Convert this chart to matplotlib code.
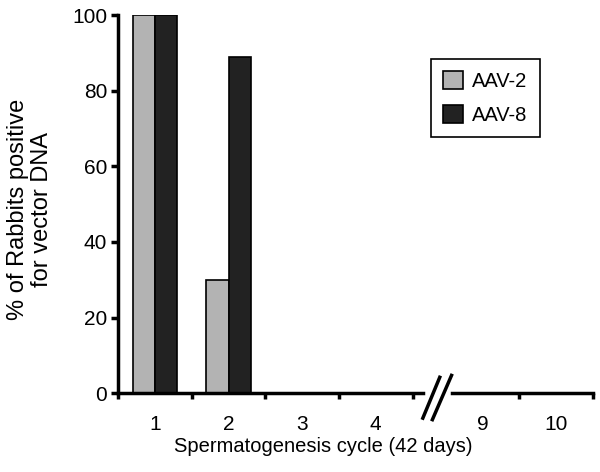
import matplotlib
matplotlib.use("Agg")
import matplotlib.pyplot as plt
from matplotlib.patches import Patch
import matplotlib.transforms as mtransforms

plt.rcParams['font.family'] = ['Liberation Sans', 'DejaVu Sans']

# datos
cycles = ['1', '2', '3', '4', '9', '10']
aav2 = [100, 30, 0, 0, 0, 0]
aav8 = [100, 89, 0, 0, 0, 0]

# posiciones de las categorías (hueco tras el 4 por el corte del eje)
centers = [0.5, 1.5, 2.5, 3.5, 4.95, 5.95]
bw = 0.3
gray = '#b3b3b3'
dark = '#222222'

fig = plt.figure(figsize=(6, 4.72), dpi=100)
ax = fig.add_axes([0.197, 0.167, 0.791, 0.801])

ax.bar([c - bw / 2 for c in centers], aav2, width=bw, color=gray,
       edgecolor='black', lw=1.2, label='AAV-2')
ax.bar([c + bw / 2 for c in centers], aav8, width=bw, color=dark,
       edgecolor='black', lw=1.2, label='AAV-8')

ax.set_xlim(0, 6.45)
ax.set_ylim(0, 100)
ax.set_yticks(range(0, 101, 20))
ax.tick_params(axis='y', direction='out', length=5, width=2.5, labelsize=15, pad=3)

# eje x: marcas en los límites, etiquetas en los centros
ax.set_xticks([0, 1, 2, 3, 4, 5.45, 6.45])
ax.set_xticklabels([])
ax.tick_params(axis='x', which='major', direction='out', length=4, width=2.5)
ax.set_xticks(centers, minor=True)
ax.set_xticklabels(cycles, minor=True)
ax.tick_params(axis='x', which='minor', length=0, labelsize=15, pad=16)

for s in ['top', 'right', 'bottom']:
    ax.spines[s].set_visible(False)
ax.spines['left'].set_linewidth(2.5)

# línea del eje x con corte
trans = mtransforms.blended_transform_factory(ax.transData, ax.transAxes)
ax.plot([0, 4.14], [0, 0], color='black', lw=2.5, transform=trans, clip_on=False)
ax.plot([4.53, 6.45], [0, 0], color='black', lw=2.5, transform=trans, clip_on=False)
ax.plot([4.14, 4.37], [-0.066, 0.042], color='black', lw=2.5, transform=trans, clip_on=False)
ax.plot([4.27, 4.53], [-0.070, 0.047], color='black', lw=2.5, transform=trans, clip_on=False)

ax.set_ylabel('% of Rabbits positive\nfor vector DNA', fontsize=17, linespacing=1.1)
ax.yaxis.set_label_coords(-0.137, 0.487)
ax.set_xlabel('Spermatogenesis cycle (42 days)', fontsize=14.5, labelpad=3)
ax.xaxis.set_label_coords(0.432, -0.115)

handles = [Patch(facecolor=gray, edgecolor='black', lw=1.2),
           Patch(facecolor=dark, edgecolor='black', lw=1.2)]
leg = ax.legend(handles, ['AAV-2', 'AAV-8'], loc='upper left',
                bbox_to_anchor=(0.659, 0.884), fontsize=14.5, fancybox=False,
                edgecolor='black', framealpha=1, handlelength=1.0,
                handleheight=1.0, handletextpad=0.45, borderpad=0.6,
                labelspacing=0.7, borderaxespad=0)
leg.get_frame().set_linewidth(1.2)

fig.savefig('out.png', dpi=100)
